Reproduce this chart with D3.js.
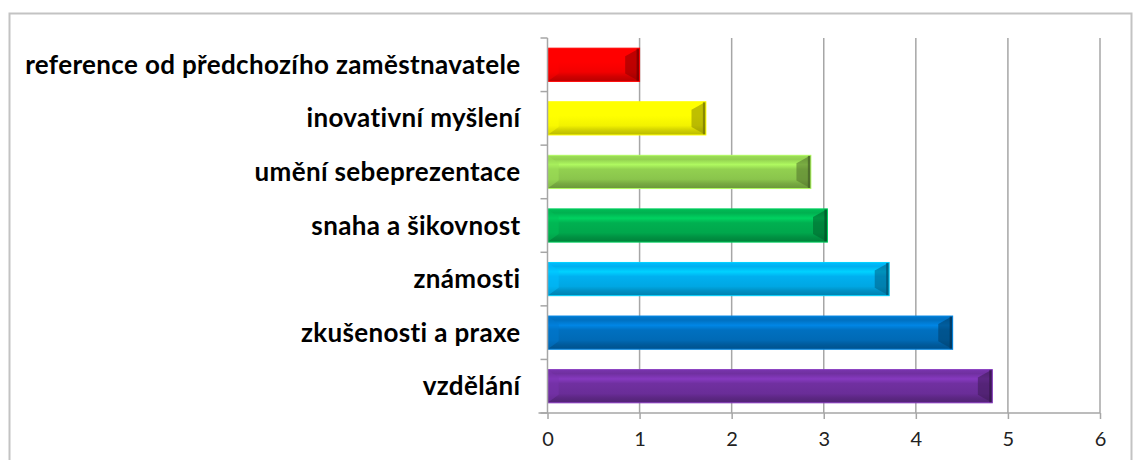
<!DOCTYPE html>
<html>
<head>
<meta charset="utf-8">
<script src="https://cdn.jsdelivr.net/npm/d3@7"></script>
<style>
  body { margin: 0; background: #fff; }
  svg { display: block; }
</style>
</head>
<body>
<div id="chart"></div>
<script>
// data, top to bottom as in the picture
var categories = ["reference od předchozího zaměstnavatele", "inovativní myšlení", "umění sebeprezentace",
  "snaha a šikovnost", "známosti", "zkušenosti a praxe", "vzdělání"];
var values = [1.0, 1.72, 2.86, 3.04, 3.71, 4.40, 4.83];
var barColors = ["#ff0000", "#ffff00", "#92d050", "#00b050", "#00b0f0", "#0070c0", "#7030a0"];
var xTicks = [0, 1, 2, 3, 4, 5, 6];

var W = 1133, H = 460;
var margin = { top: 38, right: 33, bottom: 47, left: 547.5 };

var svg = d3.select("#chart").append("svg")
  .attr("width", W)
  .attr("height", H);

// outer chart frame (bottom is cut off)
svg.append("path")
  .attr("d", "M9.5," + H + "V13.5H1131.5V" + H)
  .attr("fill", "none")
  .attr("stroke", "#c3c3c3")
  .attr("stroke-width", 2);

var g = svg.append("g")
  .attr("transform", "translate(" + margin.left + "," + margin.top + ")");

var width = 1100 - margin.left,
    height = 413 - margin.top;

var x = d3.scaleLinear().domain([0, 6]).range([0, width]);
var y = d3.scaleBand().domain(categories).range([0, height]).paddingInner(0.38).paddingOuter(0.19);

// gradients
var defs = svg.append("defs");
barColors.forEach(function (c, i) {
  var base = d3.rgb(c);
  var grad = defs.append("linearGradient")
    .attr("id", "grad" + i)
    .attr("x1", 0).attr("y1", 0).attr("x2", 0).attr("y2", 1);
  var stops = [
    [0, base.brighter(0.2)],
    [0.12, base],
    [0.28, base.brighter(0.5)],
    [0.42, base],
    [0.72, base.darker(0.15)],
    [0.85, base.darker(0.55)],
    [1, base.darker(0.9)]
  ];
  stops.forEach(function (s) {
    grad.append("stop").attr("offset", s[0]).attr("stop-color", s[1]);
  });
});

// gridlines
g.append("g")
  .selectAll("line")
  .data(xTicks.slice(1))
  .enter()
  .append("line")
  .attr("x1", function (d) { return x(d); })
  .attr("x2", function (d) { return x(d); })
  .attr("y1", 0)
  .attr("y2", height)
  .attr("stroke", "#a6a6a6")
  .attr("stroke-width", 1.5);

// bars
var bar = g.selectAll(".bar")
  .data(values)
  .enter()
  .append("g")
  .attr("class", "bar");

var bev = 8;
bar.append("rect")
  .attr("x", 0)
  .attr("y", function (d, i) { return y(categories[i]); })
  .attr("width", function (d) { return x(d); })
  .attr("height", y.bandwidth())
  .attr("fill", function (d, i) { return "url(#grad" + i + ")"; });

// right bevel, darker
bar.append("path")
  .attr("d", function (d, i) {
    var x1 = x(d), y0 = y(categories[i]), h = y.bandwidth();
    return "M" + x1 + "," + y0 + "L" + (x1 - bev * 1.8) + "," + (y0 + bev) +
      "L" + (x1 - bev * 1.8) + "," + (y0 + h - bev) + "L" + x1 + "," + (y0 + h) + "Z";
  })
  .attr("fill", function (d, i) { return d3.rgb(barColors[i]).darker(1.5); })
  .attr("opacity", 0.6);

// darkest edge at the very end
bar.append("rect")
  .attr("x", function (d) { return x(d) - 3; })
  .attr("y", function (d, i) { return y(categories[i]); })
  .attr("width", 3)
  .attr("height", y.bandwidth())
  .attr("fill", function (d, i) { return d3.rgb(barColors[i]).darker(2.2); })
  .attr("opacity", 0.7);

// left bevel, lighter
bar.append("path")
  .attr("d", function (d, i) {
    var y0 = y(categories[i]), h = y.bandwidth();
    return "M0," + y0 + "L" + bev * 1.4 + "," + (y0 + bev) +
      "L" + bev * 1.4 + "," + (y0 + h - bev) + "L0," + (y0 + h) + "Z";
  })
  .attr("fill", function (d, i) { return d3.rgb(barColors[i]).brighter(0.25); })
  .attr("opacity", 0.5);

// thin outline
bar.append("rect")
  .attr("x", 0)
  .attr("y", function (d, i) { return y(categories[i]); })
  .attr("width", function (d) { return x(d); })
  .attr("height", y.bandwidth())
  .attr("fill", "none")
  .attr("stroke", function (d, i) { return d3.rgb(barColors[i]).brighter(0.5); })
  .attr("stroke-width", 1);

// y axis (line + ticks at band edges)
var yAxisG = g.append("g");
yAxisG.append("line")
  .attr("x1", 0).attr("x2", 0).attr("y1", 0).attr("y2", height)
  .attr("stroke", "#a6a6a6").attr("stroke-width", 1.5);
yAxisG.selectAll(".ytick")
  .data(d3.range(categories.length + 1))
  .enter()
  .append("line")
  .attr("x1", -7).attr("x2", 0)
  .attr("y1", function (d) { return d * height / categories.length; })
  .attr("y2", function (d) { return d * height / categories.length; })
  .attr("stroke", "#a6a6a6").attr("stroke-width", 1.5);

// category labels
var labels = g.append("g")
  .selectAll("text")
  .data(categories)
  .enter()
  .append("text")
  .attr("x", -27)
  .attr("y", function (d) { return y(d) + y.bandwidth() / 2; })
  .attr("dy", "0.35em")
  .attr("text-anchor", "end")
  .style("font-family", "Lato, 'Open Sans', sans-serif")
  .style("font-weight", "bold")
  .style("font-size", "21px")
  .attr("fill", "#000")
  .text(function (d) { return d; });

// widen the labels so the longest one spans like in the picture (~495px)
var longest = labels.nodes()[0].getComputedTextLength();
var fs = 21 * 495 / longest;
labels.style("font-size", Math.min(fs, 26) + "px");
var ls = (495 - labels.nodes()[0].getComputedTextLength()) / (categories[0].length - 1);
if (ls > 0) labels.style("letter-spacing", ls + "px");

// x axis
var xAxis = g.append("g")
  .attr("transform", "translate(0," + height + ")")
  .call(d3.axisBottom(x).tickValues(xTicks).tickSize(6).tickPadding(13).tickFormat(d3.format("d")));
xAxis.select(".domain").remove();
xAxis.append("line")
  .attr("x1", -9).attr("x2", width).attr("y1", 0).attr("y2", 0)
  .attr("stroke", "#a6a6a6").attr("stroke-width", 1.5);
xAxis.selectAll(".tick line").attr("stroke", "#a6a6a6").attr("stroke-width", 1.5);
xAxis.selectAll(".tick text")
  .style("font-family", "Lato, 'Open Sans', sans-serif")
  .style("font-size", "20px")
  .attr("fill", "#222");
</script>
</body>
</html>
